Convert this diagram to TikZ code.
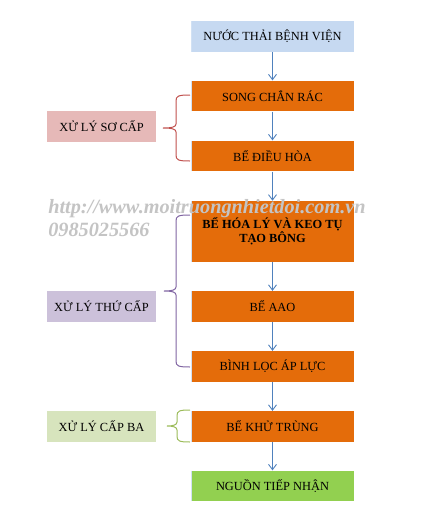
\documentclass[tikz,border=0pt]{standalone}
\usepackage{fontspec}
\setmainfont{Liberation Serif}
\usetikzlibrary{arrows.meta}
\definecolor{inblue}{HTML}{C6D9F1}
\definecolor{stepor}{HTML}{E46C0A}
\definecolor{outgreen}{HTML}{92D050}
\definecolor{pinkbox}{HTML}{E6B9B8}
\definecolor{lilacbox}{HTML}{CCC1DA}
\definecolor{palegreen}{HTML}{D7E4BD}
\definecolor{arrowblue}{HTML}{4F81BD}
\definecolor{bracered}{HTML}{C0504D}
\definecolor{bracepurple}{HTML}{8064A2}
\definecolor{bracegreen}{HTML}{9BBB59}
\definecolor{markgray}{HTML}{C4C4C4}
\tikzstyle{flowbox}=[rectangle, inner sep=0pt, minimum width=122.25pt, minimum height=23pt,
  font=\fontsize{9.3}{11.5}\selectfont,
  path picture={\draw[inblue!80!white, line width=1.5pt]
    (path picture bounding box.north west) -- (path picture bounding box.south west);}]
\tikzstyle{stagebox}=[rectangle, inner sep=0pt, minimum width=81.75pt, minimum height=23.25pt,
  font=\fontsize{9.3}{11.5}\selectfont]
\tikzstyle{flow}=[draw=arrowblue, line width=0.7pt, -{Straight Barb[length=4pt,width=6pt]}]
\tikzstyle{group}=[line width=0.75pt]
% brace: colour, x of stem, x of tip, top, middle, bottom
\newcommand{\stagebrace}[6]{\draw[group,#1]
  (190,#4) .. controls ({#2+2},#4) and (#2,{#4+1}) .. (#2,{#4+6})
  -- (#2,{#5-4}) .. controls (#2,{#5-1}) and ({#2-4},#5) .. (#3,#5)
  .. controls ({#2-4},#5) and (#2,{#5+1}) .. (#2,{#5+4})
  -- (#2,{#6-6}) .. controls (#2,{#6-1}) and ({#2+2},#6) .. (190,#6);}
\begin{document}
\begin{tikzpicture}[x=0.75pt, y=-0.75pt]
\useasboundingbox (0,0) rectangle (427,515);
% main line
\node[flowbox, fill=inblue] (in) at (272.5,36.5) {NƯỚC THẢI BỆNH VIỆN};
\node[flowbox, fill=stepor] (screen) at (272.5,96) {SONG CHẮN RÁC};
\node[flowbox, fill=stepor] (equal) at (272.5,156) {BỂ ĐIỀU HÒA};
\node[flowbox, fill=stepor, minimum height=45.75pt, font=\fontsize{9.3}{10.5}\selectfont\bfseries,
  align=center] (coag) at (272.5,231.5) {BỂ HÓA LÝ VÀ KEO TỤ\\TẠO BÔNG};
\node[flowbox, fill=stepor] (aao) at (272.5,306.5) {BỂ AAO};
\node[flowbox, fill=stepor] (filter) at (272.5,366.5) {BÌNH LỌC ÁP LỰC};
\node[flowbox, fill=stepor] (disinf) at (272.5,426.5) {BỂ KHỬ TRÙNG};
\node[flowbox, fill=outgreen] (out) at (272.5,486) {NGUỒN TIẾP NHẬN};
% stages
\node[stagebox, fill=pinkbox] (prim) at (101.5,126.5) {XỬ LÝ SƠ CẤP};
\node[stagebox, fill=lilacbox] (sec) at (101.5,306.5) {XỬ LÝ THỨ CẤP};
\node[stagebox, fill=palegreen] (tert) at (101.5,426.5) {XỬ LÝ CẤP BA};
\path
    (in) edge[flow] (screen)
    (screen) edge[flow] (equal)
    (equal) edge[flow] (coag)
    (coag) edge[flow] (aao)
    (aao) edge[flow] (filter)
    (filter) edge[flow] (disinf)
    (disinf) edge[flow] (out)
;
% braces
\stagebrace{bracered}{176}{163}{95}{128}{161}
\stagebrace{bracepurple}{176}{164}{215}{291}{367}
\stagebrace{bracegreen}{177}{167}{410}{426}{442}
% watermark
\node[anchor=base west, inner sep=0pt, text=markgray, font=\fontsize{15.2}{17}\selectfont\bfseries\itshape]
  (web) at (48,213) {http://www.moitruongnhietdoi.com.vn};
\node[anchor=base west, inner sep=0pt, text=markgray, font=\fontsize{15.2}{17}\selectfont\bfseries\itshape]
  (phone) at (48,236) {0985025566};
\end{tikzpicture}
\end{document}
